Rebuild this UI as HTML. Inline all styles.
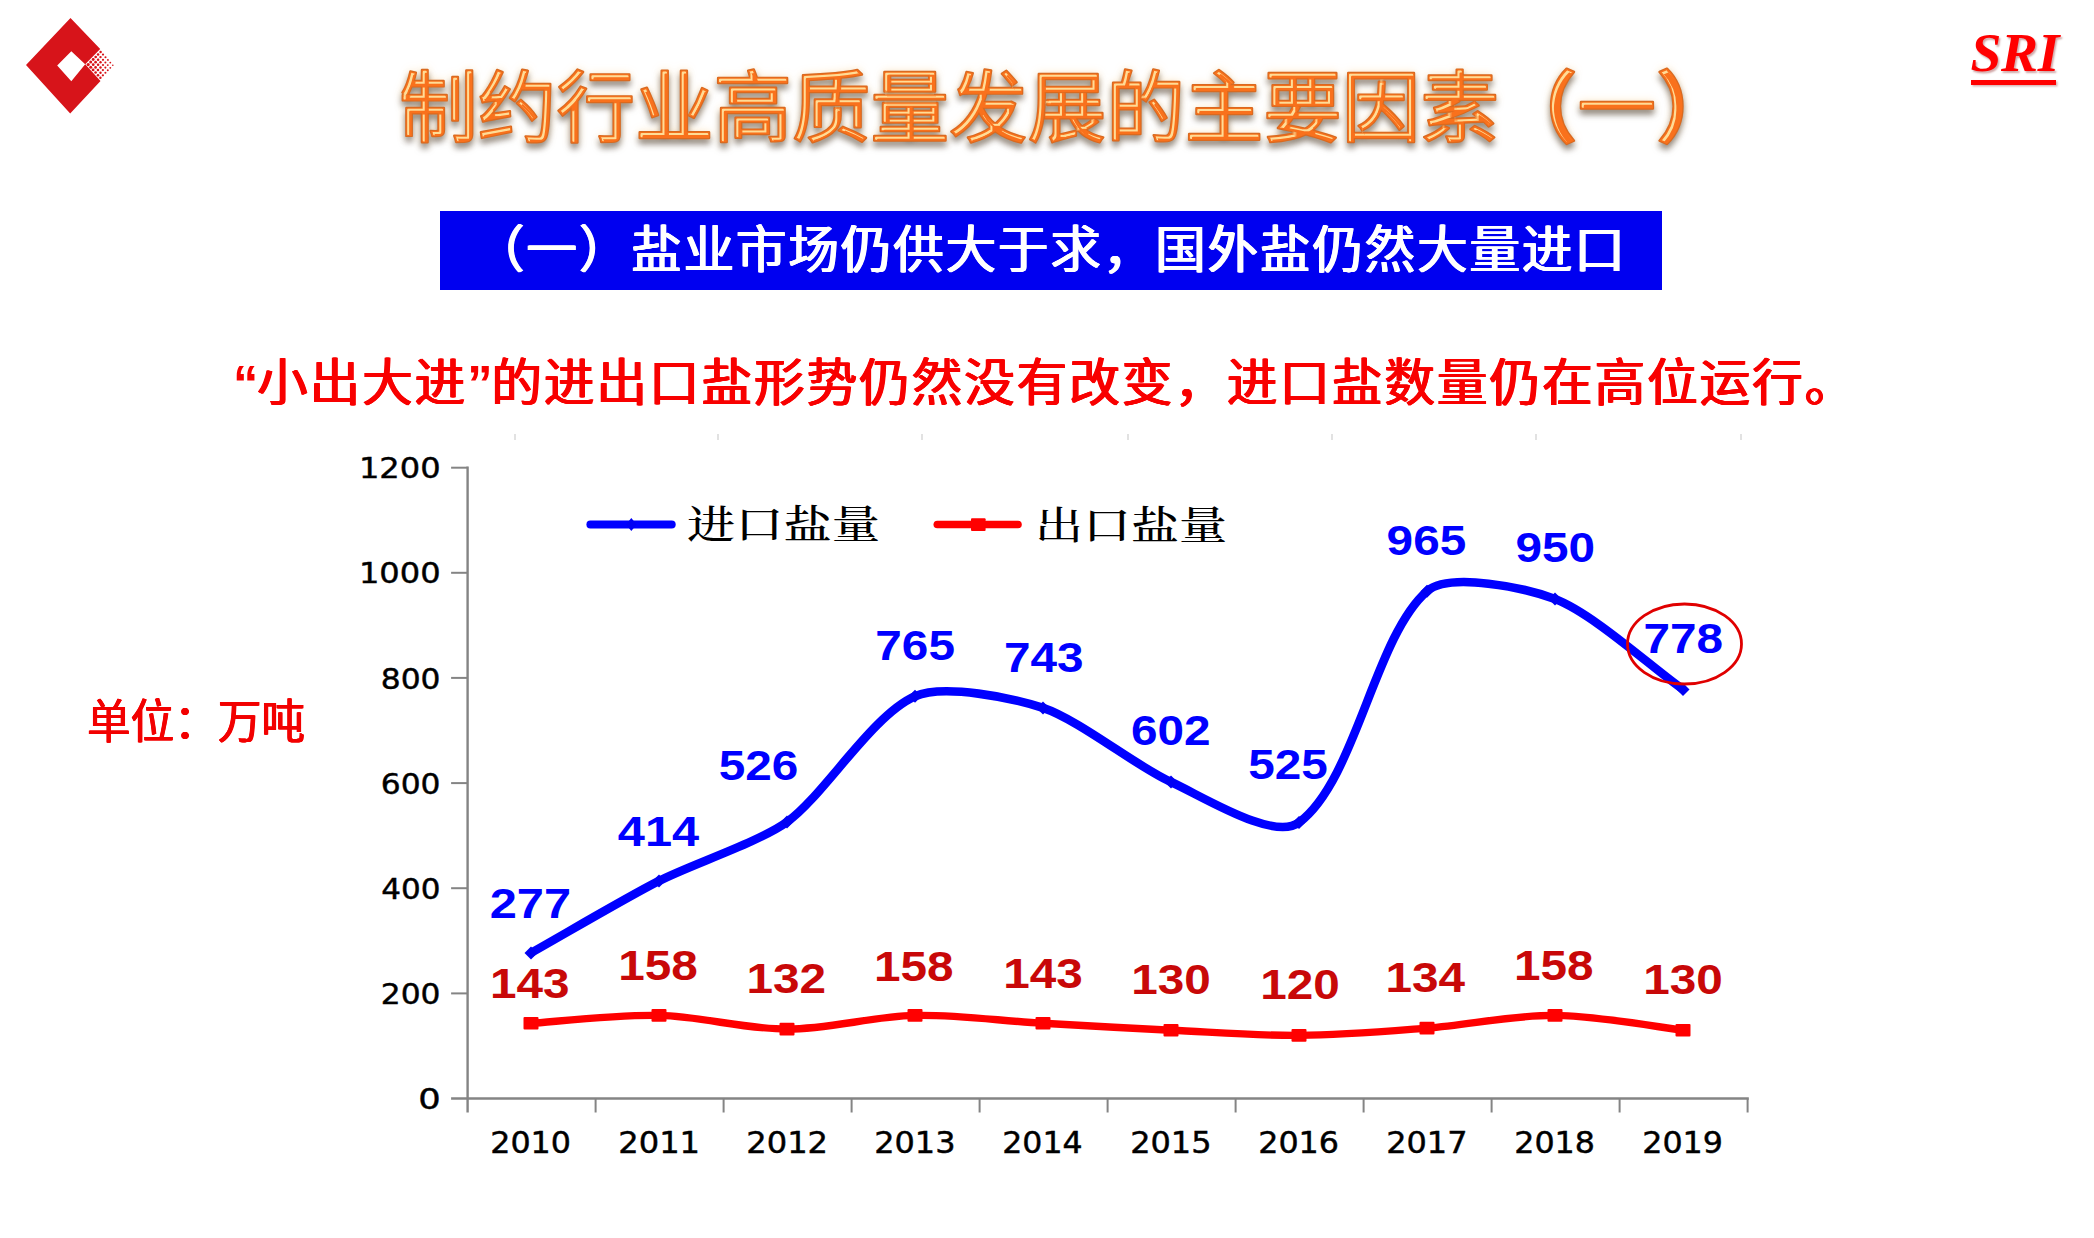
<!DOCTYPE html>
<html lang="zh-CN">
<head>
<meta charset="utf-8">
<title>制约行业高质量发展的主要因素（一）</title>
<style>
html,body{margin:0;padding:0;background:#fff;}
body{width:2094px;height:1238px;position:relative;overflow:hidden;font-family:"Liberation Sans","Noto Sans CJK SC",sans-serif;}
.chart{position:absolute;left:0;top:0;}
.logo{position:absolute;left:0;top:0;}
.titlesvg{position:absolute;left:0;top:0;}
.sri{position:absolute;left:1970.5px;top:21px;font-family:"Liberation Serif",serif;font-style:italic;font-weight:bold;font-size:55.5px;line-height:64px;color:#ff0000;letter-spacing:-0.3px;text-shadow:1.5px 1.5px 2px rgba(120,0,0,0.35);white-space:nowrap;}
.sriline{position:absolute;left:1971px;top:80px;width:85px;height:5px;background:#ff0000;box-shadow:1.5px 1.5px 2px rgba(120,0,0,0.3);}
.banner{position:absolute;left:440px;top:211px;width:1222px;height:79px;background:#0000f0;}
.banner span{position:absolute;left:34px;top:7px;font-size:50.6px;letter-spacing:1.8px;line-height:66px;font-weight:400;color:#fff;white-space:nowrap;text-shadow:0.9px 0 0 #fff, -0.9px 0 0 #fff, 0.45px 0 0 #fff, -0.45px 0 0 #fff;}
.sub{position:absolute;left:233px;top:348.5px;font-size:50.6px;letter-spacing:1.94px;line-height:70px;font-weight:400;color:#f80000;white-space:nowrap;text-shadow:0.9px 0 0 #f80000, -0.9px 0 0 #f80000, 0.45px 0 0 #f80000, -0.45px 0 0 #f80000;}
.sub b{font-weight:bold;text-shadow:none;letter-spacing:-1.2px;}
.unit{position:absolute;left:87px;top:690.2px;transform:scale(1,1.066);transform-origin:0 0;font-size:43.6px;line-height:60px;font-weight:400;color:#f20000;white-space:nowrap;text-shadow:0.6px 0 0 #f20000, -0.6px 0 0 #f20000, 0.3px 0 0 #f20000, -0.3px 0 0 #f20000;}
</style>
</head>
<body>
<svg class="logo" width="140" height="130" viewBox="0 0 140 130">
<path fill="#d7141a" fill-rule="evenodd" d="M70.5,18 L100.2,49 L85.2,64.3 L71.3,51.3 L57.2,65.6 L71.3,81.2 L85.2,64.3 L100.5,81 L70.2,113.6 L26,65 Z"/>
<circle cx="88.2" cy="64.6" r="1.57" fill="#d7141a"/>
<circle cx="90.7" cy="67.2" r="1.50" fill="#d7141a"/>
<circle cx="93.1" cy="69.9" r="1.42" fill="#d7141a"/>
<circle cx="95.6" cy="72.5" r="1.35" fill="#d7141a"/>
<circle cx="98.0" cy="75.2" r="1.27" fill="#d7141a"/>
<circle cx="100.4" cy="77.8" r="1.20" fill="#d7141a"/>
<circle cx="90.7" cy="62.1" r="1.50" fill="#d7141a"/>
<circle cx="93.2" cy="64.7" r="1.42" fill="#d7141a"/>
<circle cx="95.6" cy="67.4" r="1.35" fill="#d7141a"/>
<circle cx="98.0" cy="70.0" r="1.27" fill="#d7141a"/>
<circle cx="100.5" cy="72.7" r="1.20" fill="#d7141a"/>
<circle cx="102.9" cy="75.3" r="1.12" fill="#d7141a"/>
<circle cx="93.2" cy="59.5" r="1.42" fill="#d7141a"/>
<circle cx="95.6" cy="62.2" r="1.35" fill="#d7141a"/>
<circle cx="98.1" cy="64.8" r="1.27" fill="#d7141a"/>
<circle cx="100.5" cy="67.5" r="1.20" fill="#d7141a"/>
<circle cx="102.9" cy="70.1" r="1.12" fill="#d7141a"/>
<circle cx="105.4" cy="72.8" r="1.05" fill="#d7141a"/>
<circle cx="95.7" cy="57.0" r="1.35" fill="#d7141a"/>
<circle cx="98.1" cy="59.7" r="1.27" fill="#d7141a"/>
<circle cx="100.5" cy="62.3" r="1.20" fill="#d7141a"/>
<circle cx="103.0" cy="65.0" r="1.12" fill="#d7141a"/>
<circle cx="105.4" cy="67.6" r="1.05" fill="#d7141a"/>
<circle cx="107.8" cy="70.3" r="0.97" fill="#d7141a"/>
<circle cx="98.1" cy="54.5" r="1.27" fill="#d7141a"/>
<circle cx="100.5" cy="57.1" r="1.20" fill="#d7141a"/>
<circle cx="103.0" cy="59.8" r="1.12" fill="#d7141a"/>
<circle cx="105.4" cy="62.5" r="1.05" fill="#d7141a"/>
<circle cx="107.8" cy="65.1" r="0.97" fill="#d7141a"/>
<circle cx="110.3" cy="67.8" r="0.90" fill="#d7141a"/>
<circle cx="100.6" cy="52.0" r="1.20" fill="#d7141a"/>
<circle cx="103.0" cy="54.6" r="1.12" fill="#d7141a"/>
<circle cx="105.5" cy="57.3" r="1.05" fill="#d7141a"/>
<circle cx="107.9" cy="59.9" r="0.97" fill="#d7141a"/>
<circle cx="110.3" cy="62.6" r="0.90" fill="#d7141a"/>
<circle cx="112.8" cy="65.2" r="0.82" fill="#d7141a"/>
</svg>
<svg class="titlesvg" width="2094" height="200" viewBox="0 0 2094 200">
<defs>
<filter id="bevel" x="-2%" y="-30%" width="104%" height="170%" color-interpolation-filters="sRGB">
<feGaussianBlur in="SourceAlpha" stdDeviation="3.2" result="b1"/>
<feOffset in="b1" dx="0" dy="5" result="ob"/>
<feFlood flood-color="#50463c" flood-opacity="0.62"/>
<feComposite in2="ob" operator="in" result="shadow"/>
<feGaussianBlur in="SourceAlpha" stdDeviation="4" result="g1"/>
<feFlood flood-color="#ffe9c8" flood-opacity="0.9"/>
<feComposite in2="g1" operator="in" result="glow"/>
<feMorphology in="SourceAlpha" operator="erode" radius="1.7" result="e1"/>
<feOffset in="e1" dx="1.5" dy="1.5" result="e1o"/>
<feComposite in="e1" in2="e1o" operator="out" result="band"/>
<feGaussianBlur in="band" stdDeviation="0.55" result="bandb"/>
<feFlood flood-color="#ffdc96" flood-opacity="1"/>
<feComposite in2="bandb" operator="in" result="hl"/>
<feMerge><feMergeNode in="glow"/><feMergeNode in="shadow"/><feMergeNode in="SourceGraphic"/><feMergeNode in="hl"/></feMerge>
</filter>
</defs>
<text x="399.3" y="135.5" font-family="'Liberation Sans','Noto Sans CJK SC',sans-serif" font-weight="400" font-size="78.55" fill="#f9711c" stroke="#d96a20" stroke-width="2.4" stroke-linejoin="round" paint-order="stroke" filter="url(#bevel)">制约行业高质量发展的主要因素<tspan font-weight="700">（</tspan>一<tspan font-weight="700">）</tspan></text>
</svg>
<div class="sri">SRI</div><div class="sriline"></div>
<div class="banner"><span>（一）盐业市场仍供大于求，国外盐仍然大量进口</span></div>
<div class="sub"><b>“</b>小出大进<b>”</b>的进出口盐形势仍然没有改变，进口盐数量仍在高位运行。</div>
<div class="unit">单位：万吨</div>
<svg class="chart" width="2094" height="1238" viewBox="0 0 2094 1238">
<line x1="515" y1="434" x2="515" y2="440" stroke="#d8d8d8" stroke-width="1.5"/>
<line x1="718" y1="434" x2="718" y2="440" stroke="#d8d8d8" stroke-width="1.5"/>
<line x1="922" y1="434" x2="922" y2="440" stroke="#d8d8d8" stroke-width="1.5"/>
<line x1="1128" y1="434" x2="1128" y2="440" stroke="#d8d8d8" stroke-width="1.5"/>
<line x1="1332" y1="434" x2="1332" y2="440" stroke="#d8d8d8" stroke-width="1.5"/>
<line x1="1536" y1="434" x2="1536" y2="440" stroke="#d8d8d8" stroke-width="1.5"/>
<line x1="1741" y1="434" x2="1741" y2="440" stroke="#d8d8d8" stroke-width="1.5"/>
<g stroke="#848484" stroke-width="2.4" fill="none">
<line x1="467.6" y1="466.5" x2="467.6" y2="1112.5"/>
<line x1="451.1" y1="1098.5" x2="1748.8" y2="1098.5"/>
</g><g stroke="#848484" stroke-width="2" fill="none">
<line x1="451.1" y1="993.4" x2="467.6" y2="993.4"/>
<line x1="451.1" y1="888.2" x2="467.6" y2="888.2"/>
<line x1="451.1" y1="783.1" x2="467.6" y2="783.1"/>
<line x1="451.1" y1="677.9" x2="467.6" y2="677.9"/>
<line x1="451.1" y1="572.8" x2="467.6" y2="572.8"/>
<line x1="451.1" y1="467.7" x2="467.6" y2="467.7"/>
<line x1="595.6" y1="1098.5" x2="595.6" y2="1112.5"/>
<line x1="723.6" y1="1098.5" x2="723.6" y2="1112.5"/>
<line x1="851.6" y1="1098.5" x2="851.6" y2="1112.5"/>
<line x1="979.6" y1="1098.5" x2="979.6" y2="1112.5"/>
<line x1="1107.6" y1="1098.5" x2="1107.6" y2="1112.5"/>
<line x1="1235.6" y1="1098.5" x2="1235.6" y2="1112.5"/>
<line x1="1363.6" y1="1098.5" x2="1363.6" y2="1112.5"/>
<line x1="1491.6" y1="1098.5" x2="1491.6" y2="1112.5"/>
<line x1="1619.6" y1="1098.5" x2="1619.6" y2="1112.5"/>
<line x1="1747.6" y1="1098.5" x2="1747.6" y2="1112.5"/>
</g>
<g font-family="'DejaVu Sans', 'Liberation Sans', sans-serif" fill="#000" stroke="#000" stroke-width="0.45">
<text transform="translate(418.29,1109.19) scale(1.2118,1)" font-size="29.13" >0</text>
<text transform="translate(380.74,1004.05) scale(1.0753,1)" font-size="29.13" >200</text>
<text transform="translate(381.24,898.91) scale(1.0659,1)" font-size="29.13" >400</text>
<text transform="translate(380.74,793.77) scale(1.0753,1)" font-size="29.13" >600</text>
<text transform="translate(380.74,688.63) scale(1.0753,1)" font-size="29.13" >800</text>
<text transform="translate(358.89,583.49) scale(1.1019,1)" font-size="29.13" >1000</text>
<text transform="translate(358.89,478.35) scale(1.1019,1)" font-size="29.13" >1200</text>
<text transform="translate(490.21,1153.44) scale(1.0856,1)" font-size="29.26" >2010</text>
<text transform="translate(618.19,1153.44) scale(1.0998,1)" font-size="29.26" >2011</text>
<text transform="translate(746.19,1153.44) scale(1.0998,1)" font-size="29.26" >2012</text>
<text transform="translate(874.20,1153.44) scale(1.0926,1)" font-size="29.26" >2013</text>
<text transform="translate(1002.23,1153.44) scale(1.0786,1)" font-size="29.26" >2014</text>
<text transform="translate(1130.20,1153.44) scale(1.0926,1)" font-size="29.26" >2015</text>
<text transform="translate(1258.21,1153.44) scale(1.0856,1)" font-size="29.26" >2016</text>
<text transform="translate(1386.20,1153.44) scale(1.0926,1)" font-size="29.26" >2017</text>
<text transform="translate(1514.21,1153.44) scale(1.0856,1)" font-size="29.26" >2018</text>
<text transform="translate(1642.21,1153.44) scale(1.0856,1)" font-size="29.26" >2019</text>
</g>
<path d="M531.0,1023.3 C552.3,1022.0 616.4,1014.5 659.0,1015.4 C701.7,1016.4 744.3,1029.1 787.0,1029.1 C829.7,1029.1 872.3,1016.4 915.0,1015.4 C957.6,1014.5 1000.3,1020.9 1043.0,1023.3 C1085.7,1025.8 1128.3,1028.1 1171.0,1030.2 C1213.7,1032.2 1256.4,1035.8 1299.0,1035.4 C1341.7,1035.1 1384.4,1031.4 1427.0,1028.1 C1469.7,1024.7 1512.4,1015.1 1555.0,1015.4 C1597.7,1015.8 1661.7,1027.7 1683.0,1030.2" fill="none" stroke="#ff0000" stroke-width="7.4" stroke-linecap="round" stroke-linejoin="round"/>
<rect x="523.5" y="1017.0" width="15" height="12.6" rx="1" fill="#ff0000"/>
<rect x="651.5" y="1009.1" width="15" height="12.6" rx="1" fill="#ff0000"/>
<rect x="779.5" y="1022.8" width="15" height="12.6" rx="1" fill="#ff0000"/>
<rect x="907.5" y="1009.1" width="15" height="12.6" rx="1" fill="#ff0000"/>
<rect x="1035.5" y="1017.0" width="15" height="12.6" rx="1" fill="#ff0000"/>
<rect x="1163.5" y="1023.9" width="15" height="12.6" rx="1" fill="#ff0000"/>
<rect x="1291.5" y="1029.1" width="15" height="12.6" rx="1" fill="#ff0000"/>
<rect x="1419.5" y="1021.8" width="15" height="12.6" rx="1" fill="#ff0000"/>
<rect x="1547.5" y="1009.1" width="15" height="12.6" rx="1" fill="#ff0000"/>
<rect x="1675.5" y="1023.9" width="15" height="12.6" rx="1" fill="#ff0000"/>
<path d="M531.0,952.9 C563.0,934.9 626.1,897.7 659.0,880.9 C690.2,864.9 759.4,841.9 787.0,822.0 C824.4,795.0 871.4,715.8 915.0,696.3 C943.4,683.7 1013.1,697.9 1043.0,707.9 C1079.2,720.0 1136.7,766.7 1171.0,782.0 C1201.2,795.5 1273.5,841.5 1299.0,822.5 C1356.0,780.1 1374.2,637.3 1427.0,591.2 C1449.2,571.9 1525.9,587.9 1555.0,599.1 C1593.1,613.7 1651.0,666.9 1683.0,689.5" fill="none" stroke="#0000ff" stroke-width="8.6" stroke-linecap="butt" stroke-linejoin="round"/>
<path d="M524.5,952.9 L531.0,946.4 L537.5,952.9 L531.0,959.4 Z" fill="#0000f4"/>
<path d="M652.5,880.9 L659.0,874.4 L665.5,880.9 L659.0,887.4 Z" fill="#0000f4"/>
<path d="M780.5,822.0 L787.0,815.5 L793.5,822.0 L787.0,828.5 Z" fill="#0000f4"/>
<path d="M908.5,696.3 L915.0,689.8 L921.5,696.3 L915.0,702.8 Z" fill="#0000f4"/>
<path d="M1036.5,707.9 L1043.0,701.4 L1049.5,707.9 L1043.0,714.4 Z" fill="#0000f4"/>
<path d="M1164.5,782.0 L1171.0,775.5 L1177.5,782.0 L1171.0,788.5 Z" fill="#0000f4"/>
<path d="M1292.5,822.5 L1299.0,816.0 L1305.5,822.5 L1299.0,829.0 Z" fill="#0000f4"/>
<path d="M1420.5,591.2 L1427.0,584.7 L1433.5,591.2 L1427.0,597.7 Z" fill="#0000f4"/>
<path d="M1548.5,599.1 L1555.0,592.6 L1561.5,599.1 L1555.0,605.6 Z" fill="#0000f4"/>
<path d="M1676.5,689.5 L1683.0,683.0 L1689.5,689.5 L1683.0,696.0 Z" fill="#0000f4"/>
<line x1="590.4" y1="524.5" x2="671.7" y2="524.5" stroke="#0000ff" stroke-width="8" stroke-linecap="round"/>
<path d="M626,524.5 L631.3,518 L636.6,524.5 L631.3,531 Z" fill="#0000f4"/>
<line x1="937.3" y1="524.5" x2="1018" y2="524.5" stroke="#ff0000" stroke-width="7.6" stroke-linecap="round"/>
<rect x="971" y="518.2" width="14.6" height="12.8" rx="1" fill="#ff0000"/>
<g font-family="'Liberation Serif', 'Noto Serif CJK SC', serif" font-size="39" fill="#000" font-weight="500">
<text x="687" y="538" textLength="193" lengthAdjust="spacingAndGlyphs">进口盐量</text>
<text x="1035" y="538.5" textLength="192" lengthAdjust="spacingAndGlyphs">出口盐量</text>
</g>
<g font-family="'Liberation Sans', sans-serif" font-weight="bold">
<g fill="#0000ff">
<text transform="translate(489.72,917.55) scale(1.1250,1)" font-size="43.38" >277</text>
<text transform="translate(617.83,845.65) scale(1.1250,1)" font-size="43.38" >414</text>
<text transform="translate(718.80,779.59) scale(1.1250,1)" font-size="42.43" >526</text>
<text transform="translate(875.32,660.09) scale(1.1250,1)" font-size="42.43" >765</text>
<text transform="translate(1003.92,671.89) scale(1.1250,1)" font-size="42.43" >743</text>
<text transform="translate(1131.02,744.59) scale(1.1250,1)" font-size="42.43" >602</text>
<text transform="translate(1248.30,778.89) scale(1.1250,1)" font-size="42.43" >525</text>
<text transform="translate(1386.62,554.59) scale(1.1250,1)" font-size="42.43" >965</text>
<text transform="translate(1515.40,562.29) scale(1.1250,1)" font-size="42.43" >950</text>
<text transform="translate(1643.52,652.79) scale(1.1250,1)" font-size="42.43" >778</text>
</g><g fill="#c80808">
<text transform="translate(489.98,998.39) scale(1.1250,1)" font-size="42.43" >143</text>
<text transform="translate(618.28,980.19) scale(1.1250,1)" font-size="42.43" >158</text>
<text transform="translate(746.48,993.39) scale(1.1250,1)" font-size="42.43" >132</text>
<text transform="translate(873.88,980.59) scale(1.1250,1)" font-size="42.43" >158</text>
<text transform="translate(1003.18,987.89) scale(1.1250,1)" font-size="42.43" >143</text>
<text transform="translate(1131.15,993.59) scale(1.1250,1)" font-size="42.43" >130</text>
<text transform="translate(1260.15,999.29) scale(1.1250,1)" font-size="42.43" >120</text>
<text transform="translate(1385.53,991.59) scale(1.1250,1)" font-size="42.43" >134</text>
<text transform="translate(1513.98,980.29) scale(1.1250,1)" font-size="42.43" >158</text>
<text transform="translate(1643.15,993.59) scale(1.1250,1)" font-size="42.43" >130</text>
</g></g>
<ellipse cx="1684.5" cy="644" rx="57" ry="40" fill="none" stroke="#e00000" stroke-width="2.8"/>
</svg>
</body>
</html>
